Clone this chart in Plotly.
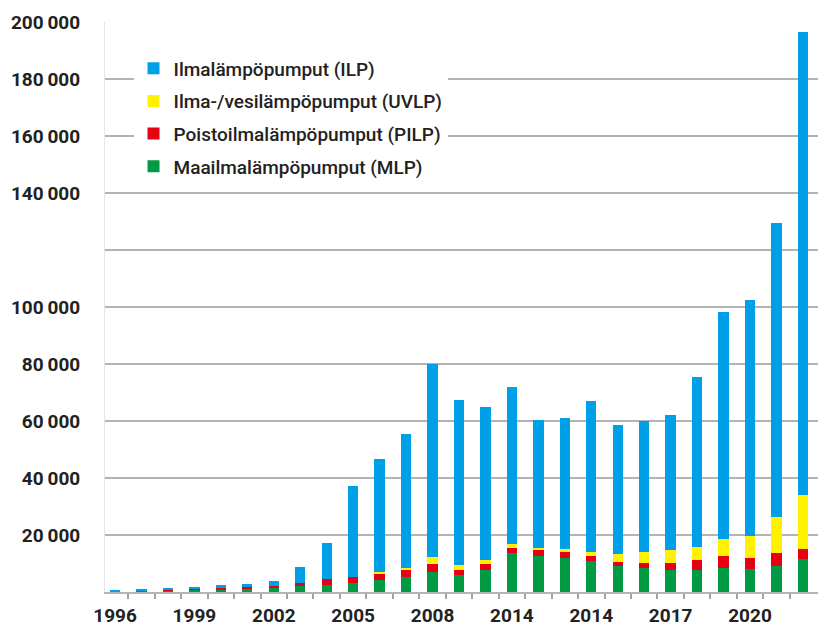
import plotly.graph_objects as go

years = list(range(1996, 2023))
mlp = [250, 450, 650, 800, 900, 1100, 1300, 2200, 2500, 3200, 4300, 5100, 7050, 6000, 7600,
       13600, 12650, 12100, 10900, 9150, 8300, 7600, 7600, 8300, 8000, 9150, 11500]
pilp = [50, 100, 200, 300, 400, 700, 900, 1100, 2000, 2100, 2300, 2500, 2950, 1600, 2400,
        2000, 1950, 2100, 1600, 1550, 2000, 2700, 3500, 4350, 4100, 4450, 3700]
uvlp = [0, 0, 0, 0, 0, 0, 0, 0, 0, 100, 300, 800, 2300, 1900, 1100,
        1100, 1000, 1000, 1700, 2800, 3900, 4300, 4800, 6050, 7550, 12700, 19000]
ilp = [100, 200, 400, 700, 1100, 1100, 1700, 5300, 12800, 31700, 39800, 47100, 67600, 57900, 53800,
       55400, 44800, 45800, 52700, 45200, 45700, 47600, 59700, 79600, 82750, 103200, 162400]

x_tick_vals = [1996, 1999, 2002, 2005, 2008, 2011, 2014, 2017, 2020]
x_tick_text = ["1996", "1999", "2002", "2005", "2008", "2014", "2014", "2017", "2020"]
y_tick_vals = [20000, 40000, 60000, 80000, 100000, 120000, 140000, 160000, 180000, 200000]
y_tick_text = ["20\u2009000", "40\u2009000", "60\u2009000", "80\u2009000", "100\u2009000", "",
               "140\u2009000", "160\u2009000", "180\u2009000", "200\u2009000"]

series = [
    ("Maailmalämpöpumput (MLP)", mlp, "#009944", 4),
    ("Poistoilmalämpöpumput (PILP)", pilp, "#E60012", 3),
    ("Ilma-/vesilämpöpumput (UVLP)", uvlp, "#FFF100", 2),
    ("Ilmalämpöpumput (ILP)", ilp, "#00A0E9", 1),
]

fig = go.Figure()
for name, vals, color, rank in series:
    fig.add_trace(go.Bar(
        x=years, y=vals, name=name, marker=dict(color=color, line=dict(width=0)),
        width=0.39, legendrank=rank, legendgroup=name,
    ))

font_family = "Roboto, 'DejaVu Sans', sans-serif"

fig.update_layout(
    barmode="stack",
    width=819, height=628,
    margin=dict(l=105, r=1, t=22, b=33.5),
    paper_bgcolor="white", plot_bgcolor="white",
    font=dict(family=font_family, color="#222222"),
    legend=dict(
        x=0.04, y=0.952, xanchor="left", yanchor="top",
        bgcolor="white", borderwidth=0,
        font=dict(size=19, family=font_family, color="#222222", weight=500),
        tracegroupgap=5, itemsizing="constant",
        traceorder="grouped",
    ),
    xaxis=dict(
        range=[1995.62, 2022.57],
        tickmode="array", tickvals=x_tick_vals, ticktext=x_tick_text,
        ticks="", showgrid=False, zeroline=False,
        showline=True, linecolor="#b5b5b5", linewidth=2,
        ticklabelstandoff=5,
        tickfont=dict(size=19, family=font_family, color="#222222", weight=700),
        minor=dict(tickvals=[y + 0.5 for y in years[:-1]], ticks="outside", ticklen=5,
                   tickcolor="#a0a0a0", tickwidth=1.5, showgrid=False),
    ),
    yaxis=dict(
        range=[0, 200000],
        tickmode="array", tickvals=y_tick_vals, ticktext=y_tick_text,
        showgrid=True, gridcolor="#b3b3b3", gridwidth=1.5,
        zeroline=False, showline=True, linecolor="#e6e6e6", linewidth=1,
        ticks="outside", ticklen=0, ticklabelstandoff=20,
        tickfont=dict(size=19, family=font_family, color="#222222", weight=700),
    ),
)

fig.write_html("out.html", config={"displayModeBar": False},
               post_script="document.body.style.margin='0';document.body.style.overflow='hidden';")
